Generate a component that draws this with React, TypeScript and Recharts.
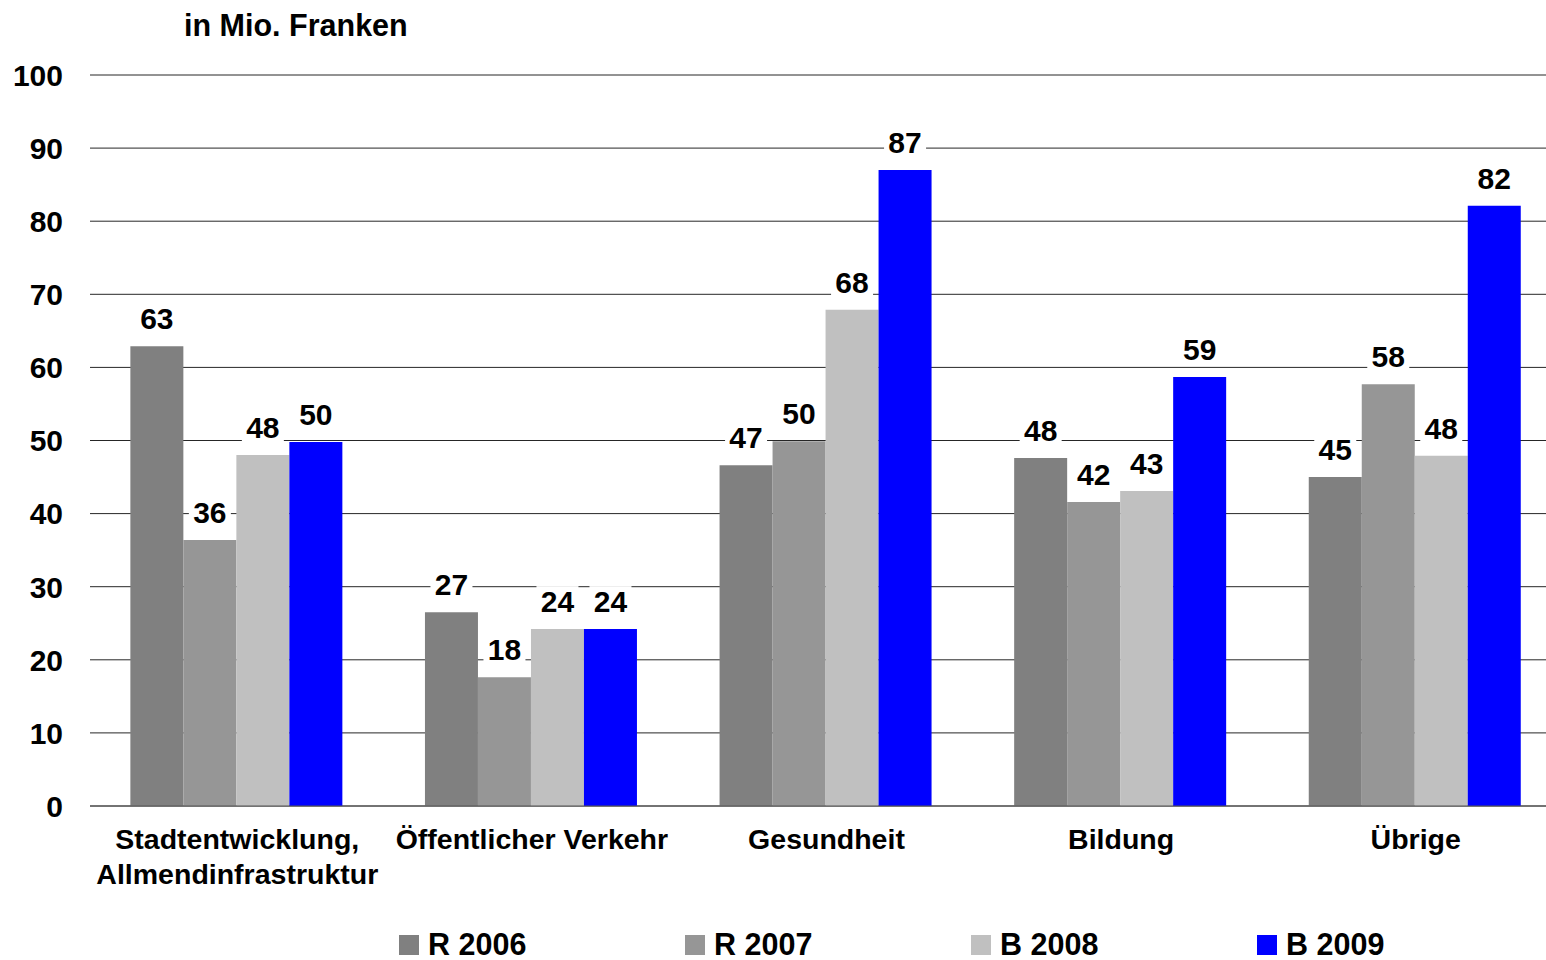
import React from "react";
import { BarChart, Bar, XAxis, YAxis, CartesianGrid, Legend, LabelList } from "recharts";

const categories = [
  "Stadtentwicklung,\nAllmendinfrastruktur",
  "Öffentlicher Verkehr",
  "Gesundheit",
  "Bildung",
  "Übrige",
];
const r2006 = [62.9, 26.5, 46.6, 47.6, 45.0];
const r2007 = [36.4, 17.6, 49.9, 41.6, 57.7];
const b2008 = [48.0, 24.2, 67.9, 43.1, 47.9];
const b2009 = [49.8, 24.2, 87.0, 58.7, 82.1];
const yTicks = [0, 10, 20, 30, 40, 50, 60, 70, 80, 90, 100];

const series = [
  { key: "r2006", name: "R 2006", color: "#808080" },
  { key: "r2007", name: "R 2007", color: "#969696" },
  { key: "b2008", name: "B 2008", color: "#C0C0C0" },
  { key: "b2009", name: "B 2009", color: "#0000FF" },
];

const data = categories.map((c, i) => ({
  name: c,
  r2006: r2006[i],
  r2007: r2007[i],
  b2008: b2008[i],
  b2009: b2009[i],
}));

const FONT = "'Liberation Sans', Arial, sans-serif";

const YTick = (props: any) => {
  const { y, payload } = props;
  return (
    <text x={63} y={y} dy="0.36em" textAnchor="end" fontFamily={FONT} fontWeight="bold" fontSize={30} fill="#000">
      {payload.value}
    </text>
  );
};

const XTick = (props: any) => {
  const { x, payload } = props;
  const lines = String(payload.value).split("\n");
  return (
    <g>
      {lines.map((l, i) => (
        <text key={i} x={x} y={849 + i * 35} textAnchor="middle" fontFamily={FONT} fontWeight="bold" fontSize={28.5} fill="#000">
          {l}
        </text>
      ))}
    </g>
  );
};

const ValueLabel = (props: any) => {
  const { x, y, width, value } = props;
  const cx = x + width / 2;
  const txt = String(Math.round(value));
  const w = txt.length * 17 + 8;
  return (
    <g>
      <rect x={cx - w / 2} y={y - 43} width={w} height={31} fill="#fff" />
      <text x={cx} y={y - 17} textAnchor="middle" fontFamily={FONT} fontWeight="bold" fontSize={30} fill="#000">
        {txt}
      </text>
    </g>
  );
};

const LegendContent = () => (
  <div style={{ position: "relative", height: 54, width: 1546 }}>
    {series.map((s, i) => (
      <div
        key={s.key}
        style={{
          position: "absolute",
          left: 399 + i * 286,
          top: 21,
          display: "flex",
          alignItems: "center",
          fontFamily: FONT,
          fontWeight: "bold",
          fontSize: 30.5,
          color: "#000",
        }}
      >
        <span style={{ display: "inline-block", width: 20, height: 20, background: s.color, marginRight: 9 }} />
        {s.name}
      </div>
    ))}
  </div>
);

export default function App() {
  return (
    <div style={{ position: "absolute", left: 0, top: 0, width: 1546, height: 960, overflow: "hidden", background: "#fff" }}>
      <div
        style={{
          position: "absolute",
          left: 184,
          top: 8,
          fontFamily: FONT,
          fontWeight: "bold",
          fontSize: 30.5,
          zIndex: 2,
          whiteSpace: "nowrap",
        }}
      >
        in Mio. Franken
      </div>
      <BarChart
        width={1563}
        height={960}
        data={data}
        margin={{ top: 75, right: 0, left: 0, bottom: 0 }}
        barCategoryGap="13.7%"
        barGap={0}
      >
        <CartesianGrid vertical={false} stroke="#000" strokeOpacity={0.85} />
        <YAxis
          width={90}
          domain={[0, 100]}
          ticks={yTicks}
          axisLine={false}
          tickLine={false}
          tick={<YTick />}
          interval={0}
        />
        <XAxis dataKey="name" height={100} axisLine={{ stroke: "#555" }} tickLine={false} tick={<XTick />} interval={0} />
        <Legend verticalAlign="bottom" height={54} content={<LegendContent />} />
        {series.map((s) => (
          <Bar key={s.key} dataKey={s.key} name={s.name} fill={s.color} isAnimationActive={false}>
            <LabelList dataKey={s.key} content={<ValueLabel />} />
          </Bar>
        ))}
      </BarChart>
    </div>
  );
}
